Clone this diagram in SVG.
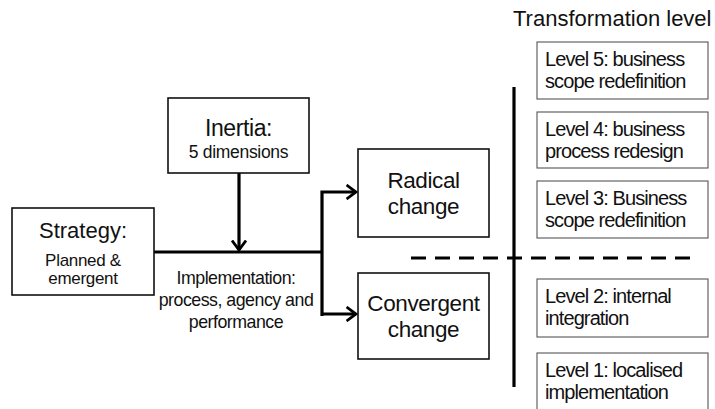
<svg xmlns="http://www.w3.org/2000/svg" width="715" height="409" viewBox="0 0 715 409">
<style>
text{font-family:"Liberation Sans",Arial,sans-serif;fill:#111;}
.box{fill:#fff;stroke:#111;stroke-width:1.6;}
.lvl{fill:#fff;stroke:#555;stroke-width:1.1;}
.ln{fill:none;stroke:#000;stroke-width:3.2;}
.big{font-size:23px;text-anchor:middle;letter-spacing:-0.4px;}
.mid{font-size:22.5px;text-anchor:middle;letter-spacing:-0.4px;}
.sm{font-size:17.8px;text-anchor:middle;letter-spacing:-0.5px;}
.lv{font-size:20px;letter-spacing:-0.9px;}
</style>
<defs>
<marker id="ah" viewBox="0 0 12 16" refX="10.5" refY="8" markerWidth="12" markerHeight="16" markerUnits="userSpaceOnUse" orient="auto">
<path d="M1,1 L10.5,8 L1,15" fill="none" stroke="#000" stroke-width="2.8"/>
</marker>
</defs>
<g id="connectors">
<line class="ln" x1="154" y1="252" x2="323" y2="252"/>
<line class="ln" x1="239" y1="173" x2="239" y2="250" marker-end="url(#ah)"/>
<path class="ln" d="M322,316 L322,192 L356,192" marker-end="url(#ah)"/>
<path class="ln" d="M322,314 L356,314" marker-end="url(#ah)"/>
<line class="ln" x1="514" y1="87" x2="514" y2="387"/>
<line x1="411" y1="258" x2="690" y2="258" stroke="#000" stroke-width="3.2" stroke-dasharray="15,9"/>
</g>
<g id="inertia">
<rect class="box" x="168" y="98" width="141" height="75"/>
<text class="big" x="238.5" y="136">Inertia:</text>
<text x="238.5" y="158" style="font-size:17.5px;text-anchor:middle;letter-spacing:-0.3px">5 dimensions</text>
</g>
<g id="strategy">
<rect class="box" x="12" y="208" width="142" height="87"/>
<text x="83" y="238" style="font-size:22px;text-anchor:middle">Strategy:</text>
<text x="83" y="266" style="font-size:17px;text-anchor:middle;letter-spacing:-0.3px">Planned &amp;</text>
<text x="83" y="284" style="font-size:17px;text-anchor:middle;letter-spacing:-0.3px">emergent</text>
</g>
<g id="implementation">
<text class="sm" x="236" y="284">Implementation:</text>
<text class="sm" x="236" y="306">process, agency and</text>
<text class="sm" x="236" y="328">performance</text>
</g>
<g id="radical">
<rect class="box" x="358" y="149" width="131" height="88"/>
<text class="mid" x="423.5" y="188">Radical</text>
<text class="mid" x="423.5" y="214">change</text>
</g>
<g id="convergent">
<rect class="box" x="358" y="273" width="131" height="86"/>
<text class="mid" x="423.5" y="311">Convergent</text>
<text class="mid" x="423.5" y="337">change</text>
</g>
<g id="title">
<text x="513" y="26" style="font-size:22px">Transformation level</text>
</g>
<g id="level5">
<rect class="lvl" x="537" y="42" width="171" height="57"/>
<text class="lv" x="545" y="66">Level 5: business</text>
<text class="lv" x="545" y="88">scope redefinition</text>
</g>
<g id="level4">
<rect class="lvl" x="537" y="112" width="171" height="56"/>
<text class="lv" x="545" y="136">Level 4: business</text>
<text class="lv" x="545" y="158">process redesign</text>
</g>
<g id="level3">
<rect class="lvl" x="537" y="181" width="171" height="57"/>
<text class="lv" x="545" y="205">Level 3: Business</text>
<text class="lv" x="545" y="227">scope redefinition</text>
</g>
<g id="level2">
<rect class="lvl" x="537" y="279" width="171" height="58"/>
<text class="lv" x="545" y="303">Level 2: internal</text>
<text class="lv" x="545" y="325">integration</text>
</g>
<g id="level1">
<rect class="lvl" x="537" y="353" width="171" height="60"/>
<text class="lv" x="545" y="377">Level 1: localised</text>
<text class="lv" x="545" y="399">implementation</text>
</g>
</svg>
